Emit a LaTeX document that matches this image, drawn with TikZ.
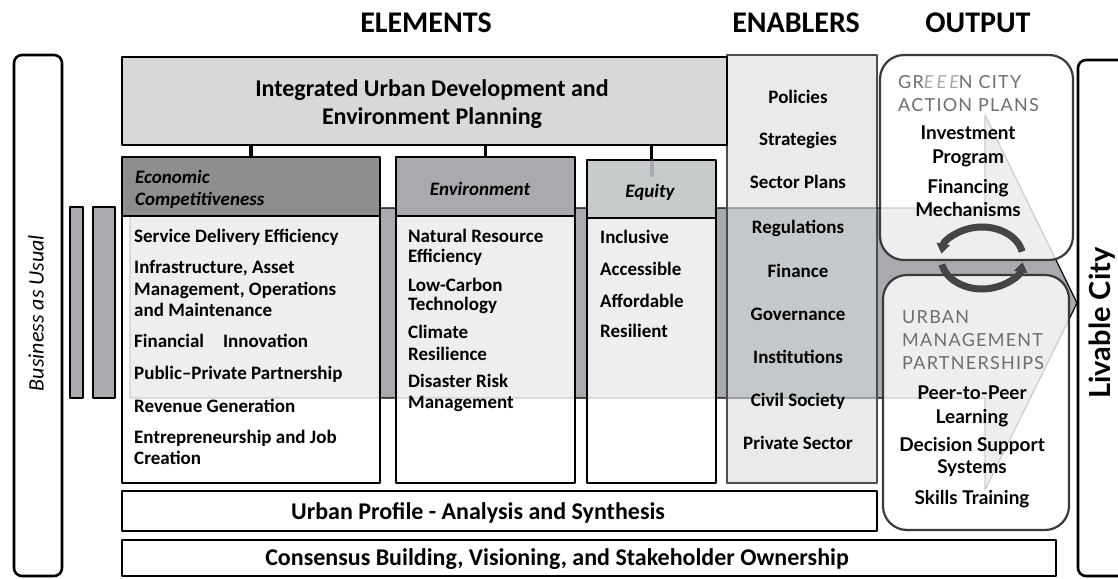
\documentclass[tikz,border=0pt]{standalone}
\usepackage{fontspec}
\setmainfont{Carlito}
\newfontfamily\capsfont[LetterSpace=7]{Lato}
\newfontfamily\cityfont{Lato}
\usetikzlibrary{arrows.meta}

\definecolor{bandgray}{HTML}{A9AAAE}
\definecolor{econgray}{HTML}{8E8E90}
\definecolor{envgray}{HTML}{A9AAAE}
\definecolor{equitygray}{HTML}{C7CBCB}
\definecolor{topgray}{HTML}{D6D8DA}
\definecolor{enablerfill}{HTML}{D8DCDD}
\definecolor{outline}{HTML}{3A3A3A}
\definecolor{capgray}{HTML}{6E6E6E}
\definecolor{lightE}{HTML}{A8A8A8}
\definecolor{ringgray}{HTML}{454545}

\def\bodysize{\fontsize{19}{23}\selectfont}

\begin{document}
\begin{tikzpicture}[x=1pt, y=-1pt, line join=round,
>={Triangle[length=10pt,width=13pt]},
box/.style={draw=black, line width=2.6pt, inner sep=0pt},
elbody/.style={box, fill=white, fill opacity=0.8},
rbox/.style={draw=outline, line width=2.2pt, rounded corners=24pt,
  fill=white, fill opacity=0.8, inner sep=0pt},
link/.style={line width=3.5pt},
item/.style={anchor=base west, inner sep=0pt, font=\bodysize\bfseries},
citem/.style={anchor=base, inner sep=0pt, font=\bodysize\bfseries},
hitem/.style={anchor=base, inner sep=0pt, font=\fontsize{24}{28}\selectfont\bfseries},
caps/.style={anchor=base west, inner sep=0pt, font=\fontsize{18}{22}\capsfont, text=capgray},
title/.style={anchor=base, inner sep=0pt, font=\fontsize{30}{34}\selectfont\bfseries},
]
\useasboundingbox (0,0) rectangle (1118,578);

% column titles
\node[title] (elements) at (426,33) {ELEMENTS};
\node[title] (enablers) at (796,33) {ENABLERS};
\node[title] (output) at (978,33) {OUTPUT};

% business as usual and the two bars
\node[box, rounded corners=8pt, minimum width=48pt, minimum height=521pt] (bau) at (38,315.5) {};
\node[rotate=90, font=\fontsize{22}{26}\selectfont\itshape] (baulabel) at (36,313) {Business as Usual};
\node[box, fill=bandgray, minimum width=13pt, minimum height=191pt] (bar1) at (76.5,302.5) {};
\node[box, fill=bandgray, minimum width=22pt, minimum height=191pt] (bar2) at (104,302.5) {};

% the big arrow behind the boxes
\coordinate (tip) at (1077,303);
\draw[fill=bandgray, line width=1.2pt] (130,208) -- (985,208) -- (985,115) -- (tip)
  -- (985,490) -- (985,398) -- (130,398) -- cycle;

% elements
\node[elbody, minimum width=258pt, minimum height=267pt] (econbody) at (251,349.5) {};
\node[elbody, minimum width=179pt, minimum height=267pt] (envbody) at (485.5,349.5) {};
\node[elbody, minimum width=129pt, minimum height=265pt] (eqbody) at (651.5,350.5) {};
\node[box, fill=econgray, minimum width=258pt, minimum height=59pt] (econhead) at (251,186.5) {};
\node[box, fill=envgray, minimum width=179pt, minimum height=59pt] (envhead) at (485.5,186.5) {};
\node[box, fill=equitygray, minimum width=129pt, minimum height=58pt] (eqhead) at (651.5,189) {};

% enablers
\node[draw=black!70, line width=2pt, fill=enablerfill, fill opacity=0.6, inner sep=0pt,
  minimum width=150pt, minimum height=428pt] (enablerbox) at (802,269) {};

% top box
\node[box, fill=topgray, minimum width=605pt, minimum height=88pt] (topbox) at (424.5,101) {};
\draw[link] (econhead.north) -- (econhead.north |- topbox.south);
\draw[link] (envhead.north) -- (envhead.north |- topbox.south);
\draw[link] (eqhead.north) -- (eqhead.north |- topbox.south);
\draw[line width=4pt, violet!30!gray, opacity=0.3] (eqhead.north) -- ++(0,18);

% output
\node[rbox, minimum width=193pt, minimum height=205pt] (greenbox) at (976.5,157.5) {};
\node[rbox, minimum width=186pt, minimum height=255pt] (urbanbox) at (976,402.5) {};
\draw[ringgray, line width=7pt, ->] (982,258) ++(-12:41 and 31)
  arc[start angle=-12, end angle=-172, x radius=41, y radius=31];
\draw[ringgray, line width=7pt, ->] (982,258) ++(-192:41 and 31)
  arc[start angle=-192, end angle=-352, x radius=41, y radius=31];

% bottom bars
\node[box, fill=white, minimum width=755pt, minimum height=40pt] (profile) at (499.5,511) {};
\node[box, fill=white, minimum width=934pt, minimum height=36pt] (consensus) at (589,558) {};

% livable city
\node[box, fill=white, rounded corners=8pt, minimum width=52pt, minimum height=516pt] (livable) at (1104,318) {};
\node[rotate=90, font=\fontsize{29}{32}\cityfont\bfseries] (livablelabel) at (1102,323) {Livable City};

% texts
\node[hitem] (top1) at (432,96) {Integrated Urban Development and};
\node[hitem] (top2) at (432,124) {Environment Planning};
\node[item, font=\fontsize{19}{23}\selectfont\bfseries\itshape] (econ1) at (135,183) {Economic};
\node[item, font=\fontsize{19}{23}\selectfont\bfseries\itshape] (econ2) at (135,205) {Competitiveness};
\node[citem, font=\fontsize{19}{23}\selectfont\bfseries\itshape] (envtitle) at (480,195) {Environment};
\node[citem, font=\fontsize{19}{23}\selectfont\bfseries\itshape] (eqtitle) at (650,197) {Equity};

\foreach \yy/\txt [count=\i] in {242/Service Delivery Efficiency, 273/{Infrastructure, Asset},
  295/{Management, Operations}, 316/and Maintenance, 347/Financial\quad Innovation,
  379/Public--Private Partnership, 412/Revenue Generation, 443/Entrepreneurship and Job,
  464/Creation}
  \node[item] (econitem\i) at (134,\yy) {\txt};

\foreach \yy/\txt [count=\i] in {242/Natural Resource, 262/Efficiency, 291/Low-Carbon,
  310/Technology, 338/Climate, 360/Resilience, 387/Disaster Risk, 408/Management}
  \node[item] (envitem\i) at (408,\yy) {\txt};

\foreach \yy/\txt [count=\i] in {243/Inclusive, 275/Accessible, 307/Affordable, 337/Resilient}
  \node[item] (eqitem\i) at (600,\yy) {\txt};

\foreach \yy/\txt [count=\i] in {103/Policies, 145/Strategies, 188/Sector Plans,
  233/Regulations, 277/Finance, 320/Governance, 363/Institutions, 406/Civil Society,
  449/Private Sector}
  \node[citem] (enabler\i) at (798,\yy) {\txt};

\node[caps] (green1) at (898,88) {GR{\itshape\color{lightE}E\,E\,E}N CITY};
\node[caps] (green2) at (898,111) {ACTION PLANS};
\foreach \yy/\txt [count=\i] in {139/Investment, 163/Program, 193/Financing, 216/Mechanisms}
  \node[citem, font=\fontsize{19}{23}\cityfont\bfseries] (greenitem\i) at (968,\yy) {\txt};

\node[caps] (urban1) at (902,323) {URBAN};
\node[caps] (urban2) at (902,346) {MANAGEMENT};
\node[caps] (urban3) at (902,369) {PARTNERSHIPS};
\foreach \yy/\txt [count=\i] in {399/Peer-to-Peer, 423/Learning, 451/Decision Support,
  473/Systems, 504/Skills Training}
  \node[citem, font=\fontsize{19}{23}\cityfont\bfseries] (urbanitem\i) at (972,\yy) {\txt};

\node[hitem] (profiletext) at (478,519) {Urban Profile - Analysis and Synthesis};
\node[hitem] (consensustext) at (557,565) {Consensus Building, Visioning, and Stakeholder Ownership};
\end{tikzpicture}
\end{document}
